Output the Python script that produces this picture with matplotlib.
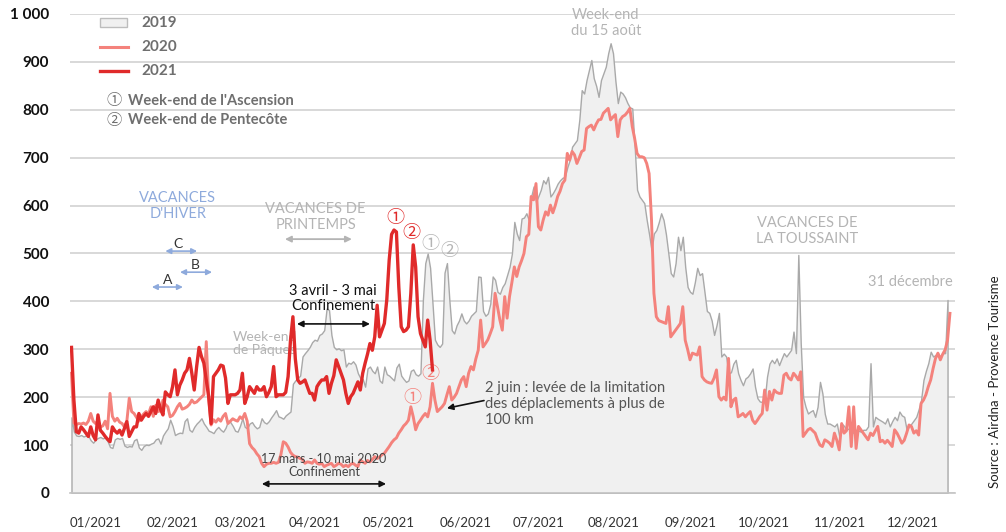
import numpy as np
import matplotlib
matplotlib.use("Agg")
import matplotlib.pyplot as plt
from matplotlib.patches import Rectangle
from matplotlib.lines import Line2D

plt.rcParams['font.family'] = ['Lato', 'DejaVu Sans', 'Noto Sans CJK JP']
CIRC = ['Noto Sans CJK JP', 'DejaVu Sans']

# ---------------- data (daily values, day index from 1 January) ----------------
v2019 = [
    158, 128, 120, 119, 121, 118, 120, 119, 110, 105,
    112, 115, 117, 114, 116, 108, 96, 94, 112, 115,
    113, 115, 99, 96, 98, 97, 110, 113, 95, 90,
    98, 101, 100, 103, 105, 112, 114, 103, 120, 128,
    135, 153, 140, 121, 124, 126, 125, 150, 156, 132,
    128, 138, 145, 150, 156, 145, 138, 130, 128, 125,
    133, 138, 132, 128, 136, 150, 148, 140, 130, 128,
    140, 156, 138, 135, 145, 148, 140, 135, 138, 156,
    148, 145, 150, 158, 165, 173, 160, 158, 155, 162,
    166, 170, 228, 235, 240, 245, 285, 292, 298, 305,
    315, 320, 318, 330, 333, 340, 385, 382, 330, 305,
    300, 302, 298, 300, 264, 272, 270, 275, 268, 250,
    240, 238, 222, 260, 264, 255, 250, 264, 235, 230,
    264, 248, 245, 240, 235, 262, 270, 245, 238, 232,
    235, 255, 258, 248, 245, 250, 403, 480, 500, 470,
    396, 320, 310, 305, 312, 460, 480, 403, 340, 333,
    350, 360, 375, 360, 354, 360, 370, 375, 380, 452,
    451, 380, 370, 375, 395, 452, 445, 420, 416, 430,
    438, 455, 472, 500, 566, 542, 528, 573, 575, 584,
    570, 619, 640, 608, 620, 633, 653, 646, 660, 619,
    626, 635, 646, 653, 658, 660, 680, 695, 723, 730,
    737, 779, 841, 834, 862, 883, 904, 866, 850, 827,
    862, 876, 890, 918, 939, 918, 860, 814, 838, 834,
    826, 814, 805, 803, 723, 633, 619, 612, 605, 570,
    540, 507, 542, 549, 565, 584, 570, 540, 500, 459,
    452, 480, 535, 507, 535, 472, 430, 420, 416, 440,
    470, 455, 459, 420, 380, 376, 360, 330, 350, 376,
    285, 291, 285, 250, 252, 270, 278, 250, 236, 225,
    239, 243, 250, 260, 222, 198, 191, 190, 194, 243,
    270, 278, 271, 281, 267, 280, 292, 285, 292, 299,
    337, 292, 497, 312, 200, 180, 166, 170, 173, 159,
    180, 232, 208, 165, 145, 145, 142, 139, 145, 118,
    145, 140, 132, 135, 130, 125, 132, 130, 128, 132,
    132, 139, 271, 139, 159, 155, 152, 149, 145, 156,
    139, 150, 159, 152, 170, 162, 159, 132, 139, 145,
    152, 159, 175, 194, 236, 255, 271, 295, 285, 288,
    292, 285, 292, 292, 403,
]

v2020 = [
    250, 146, 143, 145, 144, 146, 143, 150, 166, 150,
    145, 150, 138, 140, 150, 134, 208, 160, 150, 156,
    148, 145, 138, 150, 198, 170, 166, 158, 150, 159,
    165, 170, 165, 180, 160, 183, 170, 172, 194, 185,
    180, 159, 162, 170, 180, 187, 175, 177, 180, 185,
    194, 188, 190, 195, 200, 205, 316, 200, 142, 153,
    148, 155, 150, 160, 166, 145, 150, 155, 152, 150,
    159, 155, 166, 150, 103, 95, 90, 82, 76, 62,
    55, 60, 62, 62, 64, 62, 64, 80, 107, 104,
    96, 85, 79, 76, 75, 72, 70, 62, 65, 64,
    62, 69, 62, 60, 62, 55, 58, 60, 62, 55,
    58, 62, 60, 55, 58, 55, 60, 62, 58, 55,
    69, 65, 62, 68, 65, 70, 76, 72, 75, 80,
    83, 90, 97, 105, 111, 115, 125, 132, 140, 145,
    152, 180, 159, 132, 145, 152, 160, 166, 159, 180,
    229, 194, 170, 175, 180, 187, 205, 222, 194, 200,
    208, 222, 236, 243, 222, 250, 264, 257, 280, 298,
    361, 305, 312, 320, 333, 347, 417, 389, 361, 340,
    410, 365, 410, 440, 472, 452, 472, 485, 500, 535,
    540, 619, 612, 646, 556, 549, 570, 587, 580, 601,
    585, 600, 619, 630, 646, 653, 709, 695, 713, 706,
    688, 700, 713, 716, 761, 765, 768, 758, 770, 779,
    780, 793, 798, 803, 779, 785, 790, 744, 779, 786,
    789, 795, 803, 765, 740, 709, 702, 702, 700, 688,
    667, 570, 417, 368, 360, 358, 356, 354, 389, 326,
    333, 340, 347, 354, 389, 319, 300, 278, 292, 290,
    288, 305, 243, 236, 232, 230, 229, 240, 257, 201,
    194, 200, 194, 281, 180, 194, 198, 159, 162, 166,
    159, 165, 170, 152, 145, 152, 160, 166, 215, 173,
    212, 194, 215, 210, 208, 208, 246, 250, 240, 236,
    250, 244, 236, 253, 118, 125, 132, 135, 130, 125,
    111, 100, 97, 111, 108, 104, 97, 125, 110, 90,
    145, 125, 130, 180, 97, 180, 93, 139, 132, 125,
    118, 111, 125, 120, 130, 139, 107, 110, 104, 110,
    104, 97, 132, 125, 115, 104, 110, 125, 142, 139,
    125, 130, 121, 187, 194, 205, 222, 236, 260, 281,
    292, 278, 290, 299, 319, 375,
]

v2021 = [
    304, 194, 128, 125, 138, 132, 125, 118, 138, 120,
    111, 163, 131, 125, 118, 112, 107, 138, 130, 125,
    131, 121, 135, 149, 118, 128, 138, 138, 166, 152,
    160, 166, 160, 170, 180, 166, 194, 175, 163, 211,
    205, 201, 222, 257, 205, 225, 236, 250, 257, 281,
    250, 215, 264, 304, 285, 271, 236, 201, 145, 243,
    250, 257, 267, 265, 240, 187, 205, 205, 205, 208,
    215, 250, 187, 201, 222, 215, 208, 222, 215, 215,
    222, 201, 210, 222, 264, 201, 205, 205, 205, 210,
    243, 319, 368, 280, 236, 229, 232, 236, 222, 208,
    208, 194, 222, 230, 236, 236, 243, 208, 229, 245,
    278, 264, 250, 236, 208, 187, 201, 208, 220, 232,
    215, 250, 271, 290, 312, 298, 326, 392, 326, 340,
    354, 403, 486, 540, 549, 545, 430, 347, 337, 340,
    347, 417, 518, 472, 368, 333, 319, 305, 361, 319,
    257,
]

month_labels = ["01/2021", "02/2021", "03/2021", "04/2021", "05/2021", "06/2021",
                "07/2021", "08/2021", "09/2021", "10/2021", "11/2021", "12/2021"]
month_label_pos = [10.2, 41.8, 70.4, 101.2, 131.9, 163.9, 194.2, 225.4, 257.4, 287.7, 319.3, 349.6]
y_ticks = [0, 100, 200, 300, 400, 500, 600, 700, 800, 900, 1000]

# ---------------- colours ----------------
C19_FILL = "#f0f0f0"
C19_LINE = "#a9a9a9"
C20 = "#f4827c"
C21 = "#e02a2a"
BLUE = "#8eaadc"
LGRAY = "#b4b4b4"
DGRAY = "#6f6f6f"

W, H = 1006, 532
fig = plt.figure(figsize=(W / 100, H / 100), dpi=100)
ax = fig.add_axes([70 / W, 1 - 493 / H, 885 / W, (493 - 14) / H])

x19 = np.arange(len(v2019))
x20 = np.arange(len(v2020))
x21 = np.arange(len(v2021))

ax.fill_between(x19, v2019, 0, facecolor=C19_FILL, edgecolor=C19_LINE, linewidth=1.0, zorder=2)
ax.plot(x20, v2020, color=C20, lw=2.1, zorder=3, solid_joinstyle='round')
ax.plot(x21, v2021, color=C21, lw=2.4, zorder=4, solid_joinstyle='round')

ax.set_xlim(-0.62, 367.1)
ax.set_ylim(0, 1000)
ax.set_axisbelow(True)
ax.yaxis.grid(True, color="#d6d6d6", lw=1.3)
ax.set_yticks(y_ticks)
ax.set_yticklabels([f"{t:,}".replace(",", " ") for t in y_ticks], fontsize=11, fontweight='bold', color='#111111')
ax.set_xticks(month_label_pos)
ax.set_xticklabels(month_labels, fontsize=9.5, color='#333333')
ax.tick_params(axis='both', length=0)
ax.tick_params(axis='y', pad=15)
ax.tick_params(axis='x', pad=17)
for s in ['top', 'right', 'left']:
    ax.spines[s].set_visible(False)
ax.spines['bottom'].set_color('#c4c4c4')
ax.spines['bottom'].set_linewidth(1.2)

# ---------------- legend (manual) ----------------
def fx(px):
    return px / W

def fy(py):
    return 1 - py / H

fig.patches.append(Rectangle((fx(100), fy(27)), 27 / W, 9 / H, transform=fig.transFigure,
                             facecolor=C19_FILL, edgecolor='#bdbdbd', lw=1))
fig.lines.append(Line2D([fx(100), fx(128)], [fy(47), fy(47)], transform=fig.transFigure, color=C20, lw=2.2))
fig.lines.append(Line2D([fx(100), fx(128)], [fy(71), fy(71)], transform=fig.transFigure, color=C21, lw=2.4))
for yy, lab in zip([23, 47, 71], ["2019", "2020", "2021"]):
    fig.text(fx(141), fy(yy), lab, fontsize=11, fontweight='bold', color=DGRAY, va='center', ha='left')
fig.text(fx(114), fy(101), "①", fontsize=11, color=DGRAY, va='center', ha='center', family=CIRC)
fig.text(fx(114), fy(120), "②", fontsize=11, color=DGRAY, va='center', ha='center', family=CIRC)
fig.text(fx(128), fy(101), "Week-end de l'Ascension", fontsize=10.5, fontweight='bold', color=DGRAY,
         va='center', ha='left')
fig.text(fx(128), fy(120), "Week-end de Pentecôte", fontsize=10.5, fontweight='bold', color=DGRAY,
         va='center', ha='left')

# ---------------- annotations ----------------
ax.text(44.2, 599, "VACANCES\nD'HIVER", ha='center', va='center', fontsize=10.5, color=BLUE, linespacing=1.2)
for (x0, x1, yv, lab, lx, ly) in [(39.0, 52.2, 505, "C", 44.2, 520),
                                   (45.1, 58.4, 461, "B", 51.3, 476),
                                   (33.4, 46.3, 430, "A", 40.1, 445)]:
    ax.annotate('', xy=(x1, yv), xytext=(x0, yv),
                arrowprops=dict(arrowstyle='<|-|>', color=BLUE, lw=1.2, mutation_scale=8, shrinkA=0, shrinkB=0))
    ax.text(lx, ly, lab, ha='center', va='center', fontsize=10, color='#333333')

ax.text(101.4, 577, "VACANCES DE\nPRINTEMPS", ha='center', va='center', fontsize=10.5, color=LGRAY, linespacing=1.2)
ax.annotate('', xy=(116.5, 530), xytext=(88.7, 530),
            arrowprops=dict(arrowstyle='<|-|>', color=LGRAY, lw=1.3, mutation_scale=9, shrinkA=0, shrinkB=0))

ax.text(108.6, 406, "3 avril - 3 mai\nConfinement", ha='center', va='center', fontsize=10.5, color='#111111',
        linespacing=1.15)
ax.annotate('', xy=(124.0, 353), xytext=(93.7, 353),
            arrowprops=dict(arrowstyle='<|-|>', color='#111111', lw=1.2, mutation_scale=9, shrinkA=0, shrinkB=0))

ax.text(67.0, 312, "Week-end\nde Pâques", ha='left', va='center', fontsize=10, color=LGRAY, linespacing=1.15)

# circled markers
ax.text(134.4, 574, "①", ha='center', va='center', fontsize=13, color=C21, family=CIRC)
ax.text(141.3, 543, "②", ha='center', va='center', fontsize=13, color=C21, family=CIRC)
ax.text(149.0, 520, "①", ha='center', va='center', fontsize=13, color=LGRAY, family=CIRC)
ax.text(157.0, 506, "②", ha='center', va='center', fontsize=13, color=LGRAY, family=CIRC)
ax.text(141.7, 199, "①", ha='center', va='center', fontsize=13, color=C20, family=CIRC)
ax.text(149.0, 248, "②", ha='center', va='center', fontsize=13, color=C20, family=CIRC)

ax.text(172.0, 186, "2 juin : levée de la limitation\ndes déplaclements à plus de\n100 km", ha='left',
        va='center', fontsize=10.5, color='#555555', linespacing=1.15)
ax.annotate('', xy=(156.0, 177), xytext=(171.4, 193),
            arrowprops=dict(arrowstyle='-|>', color='#111111', lw=1.2, mutation_scale=9, shrinkA=0, shrinkB=0))

ax.text(104.9, 57, "17 mars - 10 mai 2020\nConfinement", ha='center', va='center', fontsize=9, color='#444444',
        linespacing=1.1)
ax.annotate('', xy=(130.7, 19), xytext=(79.1, 19),
            arrowprops=dict(arrowstyle='<|-|>', color='#111111', lw=1.2, mutation_scale=9, shrinkA=0, shrinkB=0))

ax.text(222.0, 981, "Week-end\ndu 15 août", ha='center', va='center', fontsize=10.5, color=LGRAY, linespacing=1.15)
ax.text(305.6, 547, "VACANCES DE\nLA TOUSSAINT", ha='center', va='center', fontsize=10.5, color=LGRAY,
        linespacing=1.2)
ax.text(366.2, 441, "31 décembre", ha='right', va='center', fontsize=10.5, color=LGRAY)

fig.text(fx(995), fy(382), "Source : Airdna - Provence Tourisme", rotation=90, ha='center', va='center',
         fontsize=9.5, color='#222222')

fig.savefig("out.png", dpi=100)
